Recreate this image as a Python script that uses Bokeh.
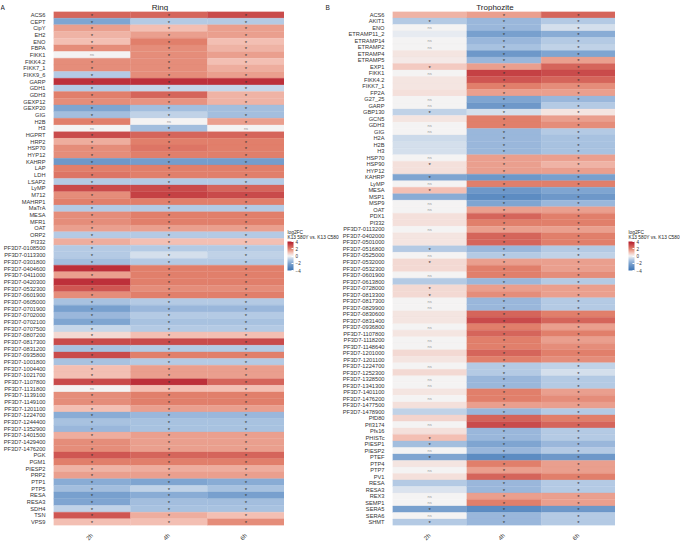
import numpy as np
from bokeh.plotting import figure
from bokeh.models import ColumnDataSource, LinearColorMapper, ColorBar, Label, FixedTicker, AllLabels
from bokeh.layouts import row, column
from bokeh.embed import file_html
from bokeh.resources import INLINE
from bokeh.core.properties import value
from bokeh.transform import transform

times = ["2h", "4h", "6h"]

genes_a = ["ACS6", "CEPT", "CipY", "EH2", "ENO", "FBPA", "FIKK1", "FIKK4.2", "FIKK7_1", "FIKK9_6",
           "GARP", "GDH1", "GDH3", "GEXP12", "GEXP20", "GIG", "H2B", "H3", "HGPRT", "HRP2",
           "HSP70", "HYP12", "KAHRP", "LAP", "LDH", "LSAP2", "LyMP", "M712", "MAHRP1", "MaTrA",
           "MESA", "MFR1", "OAT", "ORP2", "PI332", "PF3D7-0108500", "PF3D7-0113300", "PF3D7-0301800",
           "PF3D7-0404600", "PF3D7-0411000", "PF3D7-0420300", "PF3D7-0532300", "PF3D7-0601900",
           "PF3D7-0605000", "PF3D7-0701900", "PF3D7-0702000", "PF3D7-0702100", "PF3D7-0707500",
           "PF3D7-0807200", "PF3D7-0817300", "PF3D7-0831200", "PF3D7-0935800", "PF3D7-1001800",
           "PF3D7-1004400", "PF3D7-1021700", "PF3D7-1107800", "PF3D7-1131800", "PF3D7-1139100",
           "PF3D7-1149100", "PF3D7-1201100", "PF3D7-1224700", "PF3D7-1244400", "PF3D7-1352900",
           "PF3D7-1401500", "PF3D7-1429400", "PF3D7-1476200", "PGK", "PGM1", "PIESP2", "PRP2",
           "PTP1", "PTP5", "RESA", "RESA3", "SDH4", "TSN", "VPS9"]

ring_2h = [2.5, -2.0, 1.5, 1.2, 1.0, 1.8, 0.0, 1.8, 1.8, -1.0,
           3.5, -1.0, 2.0, 1.8, -2.0, -1.3, 2.0, 0.0, 3.0, 1.3,
           1.8, 1.8, -2.5, 2.0, 2.2, -1.0, 3.0, 1.8, 2.0, -1.0,
           1.8, 1.8, 1.5, -1.0, 1.3, -1.0, -1.0, -1.3,
           3.5, 1.5, 3.5, 2.8, 1.8,
           -1.2, -2.2, -1.5, -2.0, -0.7,
           0.5, 3.0, -1.2, 3.0, -1.2,
           1.0, 1.0, 3.0, 0.0, 1.8,
           1.8, 1.0, -1.8, -1.2, -1.5,
           1.3, 1.8, 1.8, 2.8, 2.0, 1.2, 1.5,
           -1.8, -1.3, -2.2, -2.0, -0.8, 2.8, 1.0]
ring_4h = [2.5, -1.0, 1.0, 1.5, 2.0, 1.8, 1.8, 1.8, 1.8, 1.8,
           3.5, -0.7, 2.5, 1.7, -1.3, -0.8, 0.0, -1.3, 2.5, 2.0,
           2.2, 2.0, -2.3, 2.0, 2.0, -1.0, 3.0, 3.2, 2.0, -1.0,
           2.0, 2.0, 1.5, -1.0, 1.0, -1.0, -0.5, -1.0,
           2.0, 2.0, 2.0, 1.8, 2.0,
           -1.0, -1.5, -1.0, -1.2, -1.0,
           1.0, 3.0, -1.0, 2.0, -1.0,
           1.5, 1.5, 3.5, 1.0, 2.0,
           2.0, 1.5, -1.5, -1.2, -1.2,
           1.5, 1.5, 1.5, 2.5, 2.0, 1.3, 1.5,
           -2.0, -0.8, -1.8, -1.3, -1.2, 1.3, 1.0]
ring_6h = [3.0, -1.0, 1.5, 1.5, 1.0, 1.2, 1.5, 1.0, 1.3, 1.5,
           3.5, -0.7, 1.2, 1.2, -1.3, -1.3, 1.5, 0.0, 2.5, 2.0,
           2.0, 2.0, -2.3, 2.0, 2.0, -1.0, 2.5, 3.0, 2.0, -1.0,
           2.0, 2.0, 1.5, -1.0, 1.0, -1.0, -0.8, -1.0,
           2.0, 2.0, 2.0, 1.8, 2.0,
           -1.0, -1.5, -1.0, -1.2, -1.0,
           1.0, 3.0, -1.0, 2.0, -1.0,
           1.5, 1.5, 2.5, 1.0, 2.0,
           2.0, 1.5, -1.5, -1.2, -1.2,
           1.5, 1.5, 1.5, 2.5, 2.0, 1.3, 1.5,
           -1.8, -1.2, -2.2, -1.3, -1.2, 1.0, 1.8]
ring_sig_2h = ["*"] * 77
ring_sig_4h = ["*"] * 77
ring_sig_6h = ["*"] * 77
for i in (6, 17, 56):
    ring_sig_2h[i] = "ns"
ring_sig_4h[16] = "ns"
ring_sig_6h[17] = "ns"

genes_b = ["ACS6", "AKIT1", "ENO", "ETRAMP11_2", "ETRAMP14", "ETRAMP2", "ETRAMP4", "ETRAMP5", "EXP1",
           "FIKK1", "FIKK4.2", "FIKK7_1", "FP2A", "G27_25", "GARP", "GBP130", "GCN5", "GDH3", "GIG",
           "H2A", "H2B", "H3", "HSP70", "HSP90", "HYP12", "KAHRP", "LyMP", "MESA", "MSP1", "MSP9",
           "OAT", "PDX1", "PI332", "PF3D7-0113200", "PF3D7-0402000", "PF3D7-0501000", "PF3D7-0516800",
           "PF3D7-0525000", "PF3D7-0532000", "PF3D7-0532300", "PF3D7-0601900", "PF3D7-0613800",
           "PF3D7-0728000", "PF3D7-0813300", "PF3D7-0817300", "PF3D7-0829900", "PF3D7-0830600",
           "PF3D7-0831400", "PF3D7-0936800", "PF3D7-1107800", "PF3D7-1118200", "PF3D7-1148640",
           "PF3D7-1201000", "PF3D7-1201100", "PF3D7-1224700", "PF3D7-1252300", "PF3D7-1328500",
           "PF3D7-1341300", "PF3D7-1401100", "PF3D7-1476200", "PF3D7-1477500", "PF3D7-1478900",
           "PfD80", "PfI3174", "Pfs16", "PHISTc", "PIESP1", "PIESP2", "PTEF", "PTP4", "PTP7", "PV1",
           "RESA", "RESA3", "REX3", "SEMP1", "SERA5", "SERA6", "SHMT"]

troph_2h = [1.2, -1.0, 0.0, -0.2, 0.0, 0.0, 0.3, 0.2, 0.8,
            0.0, 0.3, 0.3, 0.4, 0.0, 0.0, -0.8, 0.3, 0.0, 0.0,
            -0.6, -0.5, -0.5, 0.0, 0.4, 0.4, -2.0, 0.0, 1.0, -1.8, 0.0,
            0.0, 0.4, 0.4, 0.0, 0.3, 0.3, -1.0,
            0.0, 0.5, 0.5, 0.0, -1.0,
            0.5, 0.5, 0.0, 0.0, 0.3,
            0.3, 0.0, 0.3, 0.0, 0.0,
            0.5, 0.3, 0.0, 0.5, 0.0,
            0.0, 0.3, 0.0, 0.4, -0.8,
            0.6, 0.0, 0.4, 1.0, -1.3, 0.0, -2.0, 0.3, 0.0, 0.4,
            -1.0, -0.4, 0.0, 0.0, -2.2, 0.0, -1.0]
troph_4h = [1.5, -1.5, -1.5, -2.2, -1.5, -1.2, -2.5, -1.5, 1.5,
            3.2, 2.8, 2.0, 1.5, -2.0, -2.5, -0.5, 2.0, 2.0, -1.5,
            -1.5, -1.5, -1.5, 1.5, 1.5, 1.5, -2.5, 2.0, -2.5, -3.0, -2.0,
            1.5, 2.5, 2.0, 1.5, 2.5, 2.5, -1.5,
            -1.0, 1.5, 2.0, 2.0, -1.5,
            1.5, 1.8, -1.5, -1.5, 2.5,
            3.0, 2.0, 2.5, 2.0, 2.0,
            2.5, 2.0, -1.0, -1.0, -1.5,
            -1.5, 2.0, 2.0, 1.5, -1.5,
            2.5, 3.0, -1.5, -1.5, -2.0, -1.5, -3.0, 2.0, 1.5, 2.5,
            -1.5, -1.5, 1.5, 2.0, -3.0, -1.5, -1.5]
troph_6h = [2.5, -1.0, -0.5, -1.8, -1.0, -0.8, -2.0, 1.5, 2.5,
            3.0, 2.5, 1.8, 1.5, -1.5, -1.0, 0.3, 1.5, 1.8, -1.0,
            -1.2, -1.2, -1.2, 1.5, 1.2, 1.5, -2.2, 2.0, -2.0, -2.5, -1.5,
            1.5, 2.0, 2.0, 1.5, 2.0, 2.0, -1.0,
            -0.8, 1.5, 1.5, 1.8, -1.0,
            1.5, 1.5, -1.0, -1.0, 2.0,
            2.5, 1.5, 2.0, 1.5, 1.8,
            2.0, 1.8, -0.8, -0.5, -1.0,
            -1.0, 1.5, 1.8, 1.5, -1.0,
            2.0, 2.5, -1.0, -1.0, -1.5, -1.0, -2.5, 1.5, 1.5, 2.0,
            -1.0, -1.0, 1.5, 1.5, -2.5, -1.0, -1.0]
troph_sig_2h = ["" if v != 0 else "ns" for v in troph_2h]
for i in (1, 8, 15, 23, 25, 27, 36, 38, 42, 43, 65, 66, 68, 76, 78):
    troph_sig_2h[i] = "*"
troph_sig_4h = ["*"] * 79
troph_sig_6h = ["*"] * 79

legend_ticks = [-4, -2, 0, 2, 4]
legend_title = ["log2FC", "K13 580Y vs. K13 C580"]

# colour scale
anchors_v = [-4, -2, -1, 0, 1, 2, 4]
anchors_c = ["#3b72b2", "#7fa5d1", "#b3c9e4", "#f4f4f4", "#f3c0b4", "#e2806c", "#b2182b"]


def hex2rgb(h):
    return [int(h[i:i + 2], 16) for i in (1, 3, 5)]


rgb = np.array([hex2rgb(c) for c in anchors_c], dtype=float)
grid = np.linspace(-4, 4, 256)
palette = []
for g in grid:
    r = np.interp(g, anchors_v, rgb[:, 0])
    gg = np.interp(g, anchors_v, rgb[:, 1])
    b = np.interp(g, anchors_v, rgb[:, 2])
    palette.append("#%02x%02x%02x" % (int(round(r)), int(round(gg)), int(round(b))))
mapper = LinearColorMapper(palette=palette, low=-4, high=4)

FONT = "Liberation Sans"
FH = 514
PH = FH + 13  # approx total height of a panel figure
TOP = 11


def blank(width, height, xr, yr):
    f = figure(width=width, height=height, x_range=xr, y_range=yr, output_backend="svg",
               toolbar_location=None, min_border=0)
    f.axis.visible = False
    f.grid.visible = False
    f.outline_line_color = None
    return f


def make_panel(genes, cols, sigs, left, frame_w):
    xs, ys, vs, ss = [], [], [], []
    for t, col, scol in zip(times, cols, sigs):
        for g, v, s in zip(genes, col, scol):
            xs.append(t)
            ys.append(g)
            vs.append(v)
            ss.append(s)
    src = ColumnDataSource(dict(x=xs, y=ys, v=vs,
                                star=[s if s == "*" else "" for s in ss],
                                ns=[s if s == "ns" else "" for s in ss]))
    p = figure(x_range=times, y_range=list(reversed(genes)),
               output_backend="svg", toolbar_location=None,
               min_border_left=left, min_border_right=0, min_border_top=0, min_border_bottom=0)
    p.frame_width = frame_w
    p.frame_height = FH
    p.rect(x="x", y="y", width=1, height=1, source=src,
           fill_color=transform("v", mapper), line_color=transform("v", mapper), line_width=0.3)
    p.text(x="x", y="y", text="star", source=src, text_font=value(FONT), text_font_size="6px",
           text_align="center", text_baseline="middle", text_color="#333333", y_offset=1)
    p.text(x="x", y="y", text="ns", source=src, text_font=value(FONT), text_font_size="4px",
           text_align="center", text_baseline="middle", text_color="#999999")
    p.grid.visible = False
    p.outline_line_color = None
    for ax in (p.xaxis, p.yaxis):
        ax.axis_line_color = None
        ax.major_tick_line_color = None
        ax.minor_tick_line_color = None
        ax.major_label_text_font = FONT
        ax.major_label_text_color = "#333333"
    p.yaxis.major_label_text_font_size = "5.7px"
    p.yaxis.major_label_standoff = 2
    p.xaxis.major_label_text_font_size = "6px"
    p.xaxis.major_label_orientation = np.pi / 4
    p.xaxis.major_label_standoff = 3
    return p


def make_legend(width, x0):
    f = blank(width, PH, (0, 1), (0, 1))
    cb = ColorBar(color_mapper=mapper, location=(x0, PH - 280), width=6, height=29,
                  ticker=FixedTicker(ticks=legend_ticks), major_label_policy=AllLabels(),
                  major_label_text_font_size="4.6px", major_label_text_font=FONT,
                  major_label_text_color="#333333",
                  padding=0, background_fill_alpha=0,
                  border_line_color=None, bar_line_color=None, major_tick_line_color="white",
                  major_tick_in=2, major_tick_out=0, label_standoff=2, minor_tick_line_color=None)
    f.add_layout(cb, "center")
    f.add_layout(Label(x=x0, y=PH - 244, x_units="screen", y_units="screen", text=legend_title[0],
                       text_font=FONT, text_font_size="4.8px", text_color="#222222"))
    f.add_layout(Label(x=x0, y=PH - 249, x_units="screen", y_units="screen", text=legend_title[1],
                       text_font=FONT, text_font_size="4.8px", text_color="#222222"))
    return f


pa = make_panel(genes_a, [ring_2h, ring_4h, ring_6h], [ring_sig_2h, ring_sig_4h, ring_sig_6h], 44, 231)
pb = make_panel(genes_b, [troph_2h, troph_4h, troph_6h], [troph_sig_2h, troph_sig_4h, troph_sig_6h], 53, 223)
la = make_legend(55, 3)
lb = make_legend(66, 13)

top = blank(672, TOP, (0, 672), (0, TOP))
for txt, xx, al, size in (("A", 0, "left", "6.5px"), ("Ring", 159.5, "center", "8px"),
                          ("B", 325, "left", "6.5px"), ("Trophozite", 494.5, "center", "8px")):
    top.add_layout(Label(x=xx, y=TOP / 2, text=txt, text_align=al, text_baseline="middle",
                         text_font=FONT, text_font_size=size, text_color="#222222"))

layout = column(top, row(pa, la, pb, lb))
open("out.html", "w").write(file_html(layout, INLINE))
